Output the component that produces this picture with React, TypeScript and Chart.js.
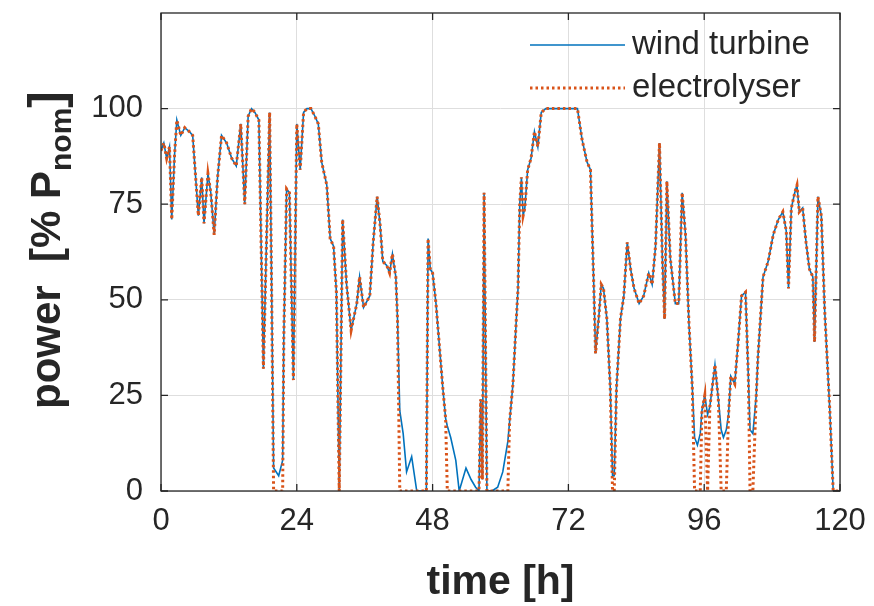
import React, { useEffect, useRef } from "react";
import { Chart, registerables } from "chart.js";

Chart.register(...registerables);

// time [h]
const hours = [
  0.0, 0.5, 1.0, 1.5, 1.9, 2.4, 2.8, 3.5, 4.2, 5.0, 5.6, 6.6, 7.2, 7.6, 8.3, 8.8, 9.4, 10.0, 10.7, 11.6,
  12.5, 13.3, 14.1, 14.8, 15.4, 16.0, 16.6, 17.3, 18.1, 19.2, 19.5, 19.9, 20.8, 21.5, 21.7, 22.2, 22.7, 23.4,
  24.0, 24.6, 25.2, 25.8, 26.5, 27.2, 27.8, 28.4, 29.3, 29.9, 30.5, 31.0, 31.5, 32.1, 32.8, 33.6, 34.6, 35.1,
  35.8, 36.9, 37.5, 38.2, 38.7, 39.2, 39.9, 40.4, 40.9, 41.5, 41.8, 42.2, 42.8, 43.4, 44.3, 45.2, 46.9, 47.2,
  47.6, 48.0, 48.6, 49.2, 49.8, 50.3, 50.6, 51.2, 52.1, 52.7, 53.9, 54.8, 55.6, 56.2, 56.5, 56.8, 57.1, 57.6,
  58.5, 59.5, 60.4, 61.3, 61.6, 62.2, 62.8, 63.1, 63.4, 63.7, 64.0, 64.3, 64.8, 65.4, 66.0, 66.6, 67.2, 68.0,
  73.6, 74.4, 75.3, 75.9, 76.5, 76.8, 77.4, 77.8, 78.2, 78.8, 79.4, 79.8, 80.1, 80.5, 81.2, 81.8, 82.4, 83.0,
  83.6, 84.5, 85.3, 86.2, 86.8, 87.4, 88.1, 88.6, 89.0, 89.4, 90.0, 90.9, 91.5, 92.1, 92.7, 93.3, 93.9, 94.3,
  94.8, 95.3, 95.6, 96.1, 96.6, 97.0, 97.9, 98.5, 99.0, 99.4, 99.9, 100.3, 100.7, 101.4, 102.0, 102.6, 103.3,
  103.8, 104.1, 104.6, 105.2, 105.5, 106.4, 107.3, 108.2, 109.1, 109.9, 110.5, 110.9, 111.4, 112.0, 112.4,
  112.8, 113.4, 114.0, 114.6, 115.2, 115.5, 116.1, 116.7, 117.3, 118.2, 118.8, 120.0,
];

// power [% P_nom]
const windTurbine = [
  89, 91, 87, 90, 71, 88, 97, 93, 95, 94, 93, 72, 82, 70, 83, 78, 67, 82, 93, 91,
  87, 85, 96, 75, 98, 100, 99, 97, 32, 99, 60, 6, 4, 8, 40, 79, 78, 29,
  96, 84, 99, 100, 100, 98, 96, 86, 80, 66, 64, 52, 0, 71, 54, 42, 49, 56,
  48, 51, 65, 77, 70, 60, 59, 57, 62, 56, 45, 21, 15, 5, 9, 0, 0, 66,
  58, 57, 49, 38, 27, 19, 17, 14, 8, 0, 6, 3, 1, 0, 24, 3, 78, 0,
  0, 1, 5, 13, 18, 28, 45, 53, 75, 82, 72, 74, 84, 87, 94, 90, 99, 100,
  100, 92, 86, 84, 53, 36, 46, 54, 53, 45, 27, 4, 4, 27, 45, 51, 65, 58,
  53, 49, 51, 57, 54, 64, 91, 61, 45, 81, 61, 49, 49, 78, 67, 44, 27, 14,
  12, 15, 21, 25, 20, 22, 33, 24, 16, 14, 16, 20, 30, 28, 39, 51, 52,
  30, 16, 15, 25, 35, 56, 60, 67, 71, 73, 68, 53, 74, 78, 80,
  73, 74, 65, 58, 56, 39, 77, 72, 47, 21, 0, 0,
];

const electrolyser = [
  89, 91, 87, 90, 71, 88, 97, 93, 95, 94, 93, 72, 82, 70, 83, 78, 67, 82, 93, 91,
  87, 85, 96, 75, 98, 100, 99, 97, 32, 99, 60, 0, 0, 0, 40, 79, 78, 29,
  96, 84, 99, 100, 100, 98, 96, 86, 80, 66, 64, 52, 0, 71, 54, 42, 49, 56,
  48, 51, 65, 77, 70, 60, 59, 57, 62, 56, 45, 0, 0, 0, 0, 0, 0, 66,
  58, 57, 49, 38, 27, 19, 0, 0, 0, 0, 0, 0, 0, 0, 24, 3, 78, 0,
  0, 0, 0, 0, 18, 28, 45, 53, 75, 82, 72, 74, 84, 87, 94, 90, 99, 100,
  100, 92, 86, 84, 53, 36, 46, 54, 53, 45, 27, 0, 0, 27, 45, 51, 65, 58,
  53, 49, 51, 57, 54, 64, 91, 61, 45, 81, 61, 49, 49, 78, 67, 44, 27, 0,
  0, 0, 21, 25, 0, 22, 33, 24, 0, 0, 0, 20, 30, 28, 39, 51, 52,
  30, 0, 0, 25, 35, 56, 60, 67, 71, 73, 68, 53, 74, 78, 80,
  73, 74, 65, 58, 56, 39, 77, 72, 47, 21, 0, 0,
];

const xTicks = [0, 24, 48, 72, 96, 120];
const yTicks = [0, 25, 50, 75, 100];
const seriesNames = ["wind turbine", "electrolyser"];
const xTitle = "time [h]";
const yTitleMain = "power  [% P";
const yTitleSub = "nom";
const yTitleEnd = "]";

const AXIS_COLOR = "#262626";
const BLUE = "#0072BD";
const RED = "#D95319";
const FONT = "'Liberation Sans', Arial, Helvetica, sans-serif";

const decorPlugin = {
  id: "decor",
  afterDraw(chart: any) {
    const { ctx, chartArea } = chart;
    const { left, right, top, bottom } = chartArea;
    const xs = chart.scales.x;
    const ys = chart.scales.y;
    ctx.save();
    // box
    ctx.strokeStyle = AXIS_COLOR;
    ctx.lineWidth = 1.3;
    ctx.strokeRect(left, top, right - left, bottom - top);
    // inward ticks
    const tl = 7;
    ctx.beginPath();
    xTicks.forEach((v) => {
      const px = xs.getPixelForValue(v);
      ctx.moveTo(px, bottom);
      ctx.lineTo(px, bottom - tl);
      ctx.moveTo(px, top);
      ctx.lineTo(px, top + tl);
    });
    yTicks.forEach((v) => {
      const py = ys.getPixelForValue(v);
      ctx.moveTo(left, py);
      ctx.lineTo(left + tl, py);
      ctx.moveTo(right, py);
      ctx.lineTo(right - tl, py);
    });
    ctx.stroke();

    // legend
    const lx0 = 530;
    const lx1 = 625;
    const rows = [
      { y: 45, color: BLUE, dash: [] as number[], width: 1.6 },
      { y: 88, color: RED, dash: [2.5, 3], width: 3 },
    ];
    rows.forEach((r, i) => {
      ctx.beginPath();
      ctx.setLineDash(r.dash);
      ctx.strokeStyle = r.color;
      ctx.lineWidth = r.width;
      ctx.moveTo(lx0, r.y);
      ctx.lineTo(lx1, r.y);
      ctx.stroke();
      ctx.setLineDash([]);
      ctx.fillStyle = AXIS_COLOR;
      ctx.font = `33px ${FONT}`;
      ctx.textAlign = "left";
      ctx.textBaseline = "middle";
      ctx.fillText(seriesNames[i], 632, r.y);
    });

    // x title
    ctx.fillStyle = AXIS_COLOR;
    ctx.font = `bold 41px ${FONT}`;
    ctx.textAlign = "center";
    ctx.textBaseline = "alphabetic";
    ctx.fillText(xTitle, (left + right) / 2, 594);

    // y title (rotated, with subscript)
    const mainFont = `bold 42px ${FONT}`;
    const subFont = `bold 30px ${FONT}`;
    const endFont = `bold 50px ${FONT}`;
    ctx.font = mainFont;
    const w1 = ctx.measureText(yTitleMain).width;
    ctx.font = subFont;
    const w2 = ctx.measureText(yTitleSub).width;
    ctx.font = endFont;
    const w3 = ctx.measureText(yTitleEnd).width;
    const total = w1 + w2 + w3;
    ctx.translate(60, 250);
    ctx.rotate(-Math.PI / 2);
    ctx.textAlign = "left";
    let x = -total / 2;
    ctx.font = mainFont;
    ctx.fillText(yTitleMain, x, 0);
    x += w1;
    ctx.font = subFont;
    ctx.fillText(yTitleSub, x, 11);
    x += w2;
    ctx.font = endFont;
    ctx.fillText(yTitleEnd, x, 3);
    ctx.restore();
  },
};

export default function App() {
  const canvasRef = useRef<HTMLCanvasElement | null>(null);

  useEffect(() => {
    document.body.style.margin = "0";
    const canvas = canvasRef.current;
    if (!canvas) return;
    const chart = new Chart(canvas, {
      type: "line",
      data: {
        datasets: [
          {
            label: seriesNames[0],
            data: hours.map((t, i) => ({ x: t, y: windTurbine[i] })),
            borderColor: BLUE,
            borderWidth: 1.6,
            pointRadius: 0,
            tension: 0,
            order: 2,
          },
          {
            label: seriesNames[1],
            data: hours.map((t, i) => ({ x: t, y: electrolyser[i] })),
            borderColor: RED,
            borderWidth: 3,
            borderDash: [2.5, 3],
            pointRadius: 0,
            tension: 0,
            order: 1,
          },
        ],
      },
      options: {
        responsive: false,
        animation: false,
        layout: { padding: { left: 0, top: 13, right: 34, bottom: 0 } },
        plugins: { legend: { display: false }, tooltip: { enabled: false } },
        scales: {
          x: {
            type: "linear",
            min: 0,
            max: 120,
            afterBuildTicks: (s: any) => {
              s.ticks = xTicks.map((v) => ({ value: v }));
            },
            afterFit: (s: any) => {
              s.height = 115;
              s.paddingLeft = 0;
              s.paddingRight = 0;
            },
            grid: { color: "#dedede", lineWidth: 1, drawTicks: false },
            border: { display: false },
            ticks: {
              color: AXIS_COLOR,
              font: { family: FONT, size: 31 },
              padding: 12,
              maxRotation: 0,
              autoSkip: false,
            },
          },
          y: {
            type: "linear",
            min: 0,
            max: 125,
            afterBuildTicks: (s: any) => {
              s.ticks = yTicks.map((v) => ({ value: v }));
            },
            afterFit: (s: any) => {
              s.width = 161;
              s.paddingTop = 0;
              s.paddingBottom = 0;
            },
            grid: { color: "#dedede", lineWidth: 1, drawTicks: false },
            border: { display: false },
            ticks: {
              color: AXIS_COLOR,
              font: { family: FONT, size: 31 },
              padding: 18,
              autoSkip: false,
            },
          },
        },
      },
      plugins: [decorPlugin],
    });
    return () => chart.destroy();
  }, []);

  return (
    <div style={{ width: 874, height: 606, background: "#fff" }}>
      <canvas ref={canvasRef} width={874} height={606} />
    </div>
  );
}
